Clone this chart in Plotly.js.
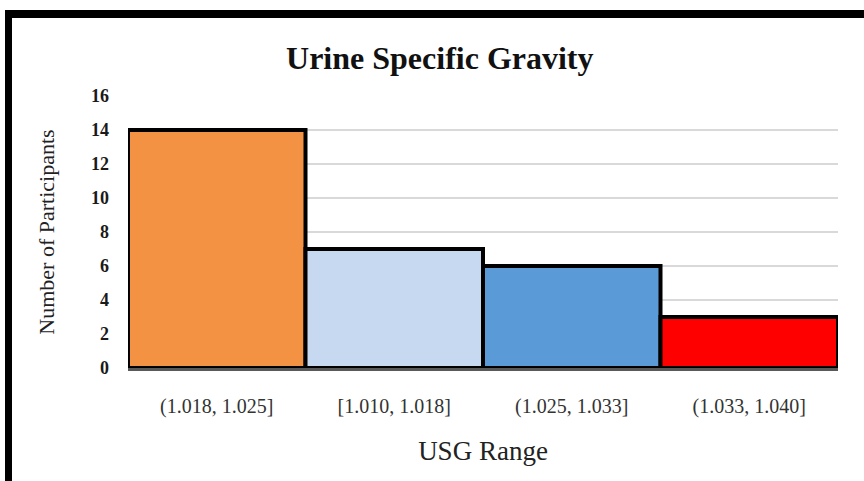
<!DOCTYPE html>
<html>
<head>
<meta charset="utf-8">
<script src="https://cdn.plot.ly/plotly-3.0.1.min.js"></script>
<style>
  html, body { margin: 0; padding: 0; background: #ffffff; }
  #wrap { position: relative; width: 864px; height: 481px; overflow: hidden; }
  #chart { width: 864px; height: 481px; }
  #frame { position: absolute; left: 5px; top: 10px; width: 870px; height: 480px;
           border-left: 7px solid #000; border-top: 8px solid #000; pointer-events: none; }
</style>
</head>
<body>
<div id="wrap">
  <div id="chart"></div>
  <div id="frame"></div>
</div>
<script>
const categories = ['(1.018, 1.025]', '[1.010, 1.018]', '(1.025, 1.033]', '(1.033, 1.040]'];
const participants = [14, 7, 6, 3];
const barColors = ['#F39242', '#C6D9F0', '#5A9AD6', '#FE0000'];
const yTickValues = [0, 2, 4, 6, 8, 10, 12, 14, 16];

const serif = 'Liberation Serif, Times New Roman, serif';

const trace = {
  type: 'bar',
  x: categories,
  y: participants,
  marker: { color: barColors, line: { color: '#000000', width: 4 } },
  hoverinfo: 'none'
};

const layout = {
  width: 864,
  height: 481,
  margin: { l: 128, r: 26, t: 96, b: 113 },
  paper_bgcolor: 'rgba(0,0,0,0)',
  plot_bgcolor: '#ffffff',
  bargap: 0,
  showlegend: false,
  title: {
    text: '<b>Urine Specific Gravity</b>',
    font: { family: serif, size: 32, color: '#111111' },
    x: 0.509, xanchor: 'center', xref: 'container',
    y: 0.88, yanchor: 'middle', yref: 'container'
  },
  xaxis: {
    type: 'category',
    showgrid: false,
    showline: true, linecolor: '#595959', linewidth: 3,
    ticks: '',
    ticklabelstandoff: 18,
    tickfont: { family: serif, size: 20, color: '#333333' },
    title: { text: 'USG Range', font: { family: serif, size: 27, color: '#222222' }, standoff: 25 },
    automargin: false
  },
  yaxis: {
    range: [0, 16],
    tickvals: yTickValues,
    ticktext: yTickValues.map(String),
    showgrid: true, gridcolor: '#D9D9D9', gridwidth: 2,
    zeroline: false,
    showline: false,
    ticks: '',
    ticklabelstandoff: 18,
    tickfont: { family: serif, size: 18, color: '#1a1a1a', weight: 'bold' },
    title: { text: 'Number of Participants', font: { family: serif, size: 22, color: '#222222' }, standoff: 30 },
    automargin: false
  }
};

Plotly.newPlot('chart', [trace], layout, { staticPlot: true, displayModeBar: false });
</script>
</body>
</html>
